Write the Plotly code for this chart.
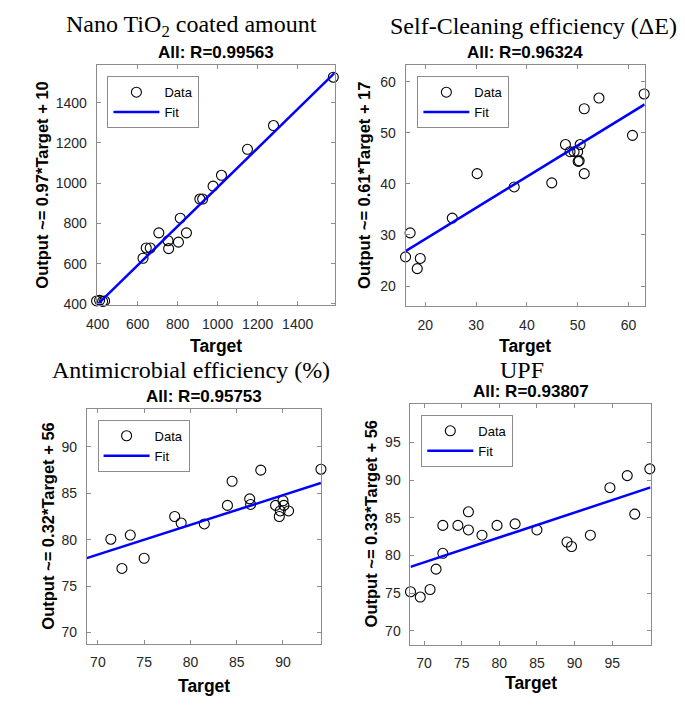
import plotly.graph_objects as go

# ---------------- data ----------------
# Panel 1: Nano TiO2 coated amount
tio2_target = [395, 410, 425, 435, 627, 643, 663, 706, 752, 755, 804, 813, 844, 911, 925, 977, 1019, 1149, 1279, 1578]
tio2_output = [415, 418, 413, 415, 627, 678, 678, 753, 714, 675, 707, 826, 753, 921, 921, 985, 1039, 1168, 1286, 1526]

# Panel 2: Self-Cleaning efficiency (dE)
sc_target = [16.1, 17.0, 18.4, 19.0, 25.3, 30.2, 37.5, 44.9, 47.6, 48.5, 49.3, 50.0, 50.1, 50.3, 50.5, 51.3, 51.3, 54.2, 60.8, 63.1]
sc_output = [25.7, 30.4, 23.4, 25.4, 33.3, 42.0, 39.4, 40.2, 47.7, 46.3, 46.3, 46.3, 44.4, 44.5, 47.7, 54.7, 42.0, 56.8, 49.5, 57.6]

# Panel 3: Antimicrobial efficiency (%)
am_target = [68.7, 71.4, 72.6, 73.5, 75.0, 78.3, 79.0, 81.5, 84.0, 84.5, 86.4, 86.5, 87.6, 89.2, 89.6, 89.7, 90.0, 90.1, 90.6, 94.1]
am_output = [77.9, 80.05, 76.9, 80.5, 78.0, 82.5, 81.8, 81.7, 83.7, 86.3, 84.4, 83.8, 87.5, 83.7, 82.5, 83.1, 84.2, 83.7, 83.1, 87.6]

# Panel 4: UPF
upf_target = [68.2, 69.5, 70.8, 71.6, 72.5, 72.5, 74.5, 75.9, 75.9, 77.7, 79.7, 82.1, 85.0, 89.0, 89.6, 92.1, 94.7, 97.0, 98.0, 100.0]
upf_output = [75.2, 74.5, 75.5, 78.2, 80.3, 84.0, 84.0, 83.4, 85.8, 82.7, 84.0, 84.2, 83.4, 81.8, 81.2, 82.7, 89.0, 90.6, 85.5, 91.5]

main_titles = ["Nano TiO<sub>2</sub> coated amount", "Self-Cleaning efficiency (ΔE)",
               "Antimicrobial efficiency (%)", "UPF"]
r_titles = ["All: R=0.99563", "All: R=0.96324", "All: R=0.95753", "All: R=0.93807"]
y_titles = ["Output ~= 0.97*Target + 10", "Output ~= 0.61*Target + 17",
            "Output ~= 0.32*Target + 56", "Output ~= 0.33*Target + 56"]
fit_slope = [0.97, 0.61, 0.32, 0.33]
fit_intercept = [10, 17, 56, 56]
limits = [[395, 1585], [16.1, 63.2], [68.8, 94.1], [68.2, 100.1]]
tickvals = [[400, 600, 800, 1000, 1200, 1400],
            [20, 30, 40, 50, 60],
            [70, 75, 80, 85, 90],
            [70, 75, 80, 85, 90, 95]]

targets = [tio2_target, sc_target, am_target, upf_target]
outputs = [tio2_output, sc_output, am_output, upf_output]

# ---------------- layout geometry (pixels) ----------------
W, H = 685, 708
# axes boxes: x0, x1, y0(top), y1(bottom)
boxes = [(87, 329, 66, 308), (401, 644, 66, 309), (77, 315, 413, 650), (406, 650, 408, 651)]
legend_pos = [(98, 77), (413, 77), (88, 424), (417, 419)]
main_title_pos = [(183, 26), (531, 26), (183, 374), (519, 374)]
r_title_pos = [(208, 53), (522, 53), (196, 400), (528, 395)]
ytitle_x = [32, 358, 38, 366]
xtitle_y = [349, 349, 693, 690]

fig = go.Figure()
FRAME = "#8c8c8c"
TXT = "#262626"

for i in range(4):
    sfx = "" if i == 0 else str(i + 1)
    leg = "legend" if i == 0 else f"legend{i + 1}"
    xa = f"x{sfx}"
    ya = f"y{sfx}"
    fig.add_trace(go.Scatter(
        x=targets[i], y=outputs[i], mode="markers", name="Data",
        marker=dict(symbol="circle-open", size=10, color="black", line=dict(width=1.1, color="black")),
        xaxis=xa, yaxis=ya, legend=leg, cliponaxis=False))
    lo, hi = limits[i]
    fx = [lo, hi]
    fy = [fit_slope[i] * v + fit_intercept[i] for v in fx]
    fig.add_trace(go.Scatter(
        x=fx, y=fy, mode="lines", name="Fit",
        line=dict(color="#0000ff", width=2.5),
        xaxis=xa, yaxis=ya, legend=leg))

    x0, x1, yt, yb = boxes[i]
    axis_common = dict(
        range=limits[i], tickvals=tickvals[i], ticks="inside", ticklen=4,
        tickcolor=FRAME, showline=True, linecolor=FRAME, linewidth=1, mirror="ticks",
        showgrid=False, zeroline=False, ticklabelstandoff=6,
        tickfont=dict(family="Arial, Liberation Sans", size=14, color=TXT))
    fig.layout[f"xaxis{sfx}"] = dict(axis_common, domain=[x0 / W, x1 / W], anchor=ya)
    fig.layout[f"yaxis{sfx}"] = dict(axis_common, domain=[1 - yb / H, 1 - yt / H], anchor=xa)

    lx, ly = legend_pos[i]
    fig.layout[leg] = dict(
        x=lx / W, y=1 - ly / H, xanchor="left", yanchor="top", xref="paper", yref="paper",
        bgcolor="white", bordercolor=FRAME, borderwidth=1,
        font=dict(family="Arial, Liberation Sans", size=13, color="black"),
        itemwidth=46, tracegroupgap=0)

    # titles
    mx, my = main_title_pos[i]
    fig.add_annotation(text=main_titles[i], x=mx / W, y=1 - my / H, xref="paper", yref="paper",
                       showarrow=False, xanchor="center", yanchor="middle",
                       font=dict(family="Liberation Serif, Times New Roman", size=24, color="black"))
    rx, ry = r_title_pos[i]
    fig.add_annotation(text="<b>" + r_titles[i] + "</b>", x=rx / W, y=1 - ry / H, xref="paper", yref="paper",
                       showarrow=False, xanchor="center", yanchor="middle",
                       font=dict(family="Arial, Liberation Sans", size=17, color="black"))
    fig.add_annotation(text="<b>" + y_titles[i] + "</b>", x=ytitle_x[i] / W, y=1 - ((yt + yb) / 2) / H,
                       xref="paper", yref="paper", showarrow=False, textangle=-90,
                       xanchor="center", yanchor="middle",
                       font=dict(family="Arial, Liberation Sans", size=16.5, color="black"))
    fig.add_annotation(text="<b>Target</b>", x=((x0 + x1) / 2) / W, y=1 - xtitle_y[i] / H,
                       xref="paper", yref="paper", showarrow=False, xanchor="center", yanchor="middle",
                       font=dict(family="Arial, Liberation Sans", size=17.5, color="black"))

fig.update_layout(width=W, height=H, margin=dict(l=0, r=0, t=0, b=0),
                  paper_bgcolor="white", plot_bgcolor="white", showlegend=True)

fig.write_html("out.html", config={"displayModeBar": False},
               post_script="document.body.style.margin='0px';document.body.style.padding='0px';")
